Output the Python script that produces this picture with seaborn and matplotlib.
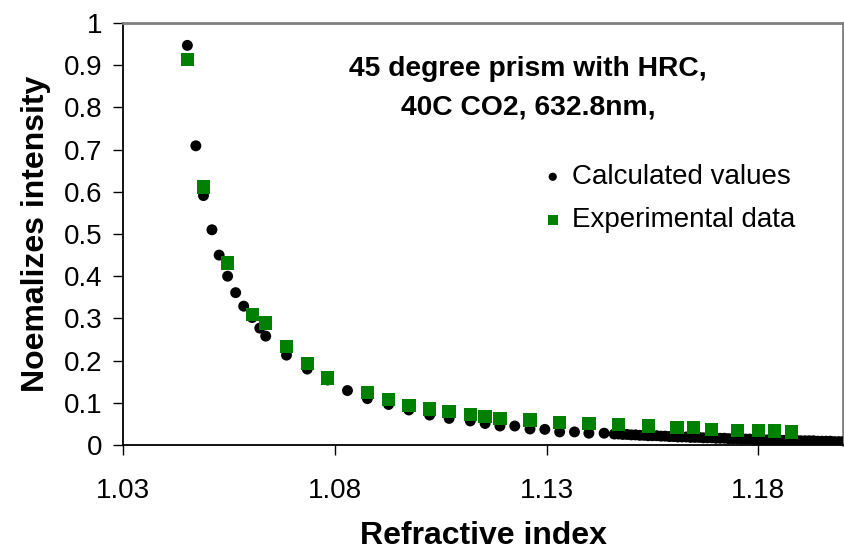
import matplotlib
matplotlib.use("Agg")
import matplotlib.pyplot as plt
import seaborn as sns
import pandas as pd

# calculated values (black circles)
calc_n = [1.0452, 1.0472, 1.0490, 1.0510, 1.0527, 1.0547, 1.0566, 1.0585, 1.0605, 1.0623,
          1.0637, 1.0686, 1.0735, 1.0783, 1.0830, 1.0877, 1.0927, 1.0975, 1.1024, 1.1070,
          1.1120, 1.1155, 1.1190, 1.1225, 1.1261, 1.1296, 1.1331, 1.1366, 1.1400, 1.1436,
          1.146, 1.147, 1.148, 1.149, 1.150, 1.151, 1.152, 1.153, 1.154, 1.155,
          1.156, 1.157, 1.158, 1.159, 1.160, 1.161, 1.162, 1.163, 1.164, 1.165,
          1.166, 1.167, 1.168, 1.169, 1.170, 1.171, 1.172, 1.173, 1.174, 1.175,
          1.176, 1.177, 1.178, 1.179, 1.180, 1.181, 1.182, 1.183, 1.184, 1.185,
          1.186, 1.187, 1.188, 1.189, 1.190, 1.191, 1.192, 1.193, 1.194, 1.195,
          1.196, 1.197, 1.198, 1.199, 1.200]
calc_i = [0.947, 0.709, 0.591, 0.510, 0.450, 0.400, 0.361, 0.329, 0.302, 0.277,
          0.258, 0.213, 0.180, 0.154, 0.129, 0.110, 0.096, 0.083, 0.071, 0.063,
          0.057, 0.051, 0.045, 0.045, 0.038, 0.037, 0.031, 0.031, 0.028, 0.028,
          0.026, 0.026, 0.025, 0.025, 0.024, 0.024, 0.023, 0.023, 0.022, 0.022,
          0.022, 0.021, 0.021, 0.020, 0.020, 0.019, 0.019, 0.019, 0.018, 0.018,
          0.018, 0.017, 0.017, 0.017, 0.016, 0.016, 0.016, 0.015, 0.015, 0.015,
          0.014, 0.014, 0.014, 0.013, 0.013, 0.013, 0.012, 0.012, 0.012, 0.012,
          0.011, 0.011, 0.011, 0.011, 0.010, 0.010, 0.010, 0.010, 0.009, 0.009,
          0.009, 0.009, 0.008, 0.008, 0.008]

# experimental data (green squares)
exp_n = [1.0452, 1.0490, 1.0547, 1.0605, 1.0637, 1.0686, 1.0735, 1.0783, 1.0877, 1.0927,
         1.0975, 1.1024, 1.1070, 1.1120, 1.1155, 1.1190, 1.1261, 1.1331, 1.1400, 1.1470,
         1.1540, 1.1608, 1.1647, 1.1690, 1.1751, 1.1800, 1.1839, 1.1879]
exp_i = [0.913, 0.611, 0.431, 0.309, 0.289, 0.234, 0.193, 0.159, 0.124, 0.108,
         0.094, 0.085, 0.079, 0.073, 0.067, 0.063, 0.059, 0.053, 0.051, 0.048,
         0.045, 0.042, 0.042, 0.037, 0.035, 0.035, 0.033, 0.031]

x_ticks = [1.03, 1.08, 1.13, 1.18]
y_ticks = [0, 0.1, 0.2, 0.3, 0.4, 0.5, 0.6, 0.7, 0.8, 0.9, 1]
y_tick_labels = ["0", "0.1", "0.2", "0.3", "0.4", "0.5", "0.6", "0.7", "0.8", "0.9", "1"]

calc_df = pd.DataFrame({"n": calc_n, "I": calc_i})
exp_df = pd.DataFrame({"n": exp_n, "I": exp_i})

sns.set_style("white")
plt.rcParams["font.family"] = ["Liberation Sans", "DejaVu Sans"]
plt.rcParams["text.color"] = "black"
plt.rcParams["axes.labelcolor"] = "black"
plt.rcParams["xtick.color"] = "black"
plt.rcParams["ytick.color"] = "black"

fig, ax = plt.subplots(figsize=(8.45, 5.53), dpi=100)
fig.subplots_adjust(left=123 / 845, right=843 / 845, bottom=1 - 445 / 553, top=1 - 23 / 553)

sns.scatterplot(data=calc_df, x="n", y="I", ax=ax, color="black", marker="o",
                s=62, edgecolor="none", label="Calculated values", zorder=3)
sns.scatterplot(data=exp_df, x="n", y="I", ax=ax, color="#008000", marker="s",
                s=92, edgecolor="none", label="Experimental data", zorder=4)

ax.set_xlim(1.03, 1.20)
ax.set_ylim(0, 1)
ax.set_xticks(x_ticks)
ax.set_xticklabels([f"{v:.2f}" for v in x_ticks])
ax.set_yticks(y_ticks)
ax.set_yticklabels(y_tick_labels)
ax.tick_params(axis="both", which="major", direction="out", length=7, width=1,
               color="black", labelcolor="black", labelsize=20, bottom=True, left=True)
ax.tick_params(axis="x", pad=17)
ax.tick_params(axis="y", pad=8)

for side in ["left", "bottom"]:
    ax.spines[side].set_color("black")
    ax.spines[side].set_linewidth(1.3)
for side in ["top", "right"]:
    ax.spines[side].set_color("#808080")
    ax.spines[side].set_linewidth(2)

ax.set_xlabel("Refractive index", fontsize=23, fontweight="bold", labelpad=12)
ax.set_ylabel("Noemalizes intensity", fontsize=23, fontweight="bold", labelpad=9)

ax.text(0.5625, 0.845, "45 degree prism with HRC,\n40C CO2, 632.8nm,", transform=ax.transAxes,
        ha="center", va="center", fontsize=20.3, fontweight="bold", linespacing=1.62)

ax.legend(loc="upper left", bbox_to_anchor=(0.539, 0.725), frameon=False, fontsize=20,
          handletextpad=0.1, handlelength=1.2, labelspacing=0.62, markerscale=0.75)

fig.savefig("out.png", dpi=100)
